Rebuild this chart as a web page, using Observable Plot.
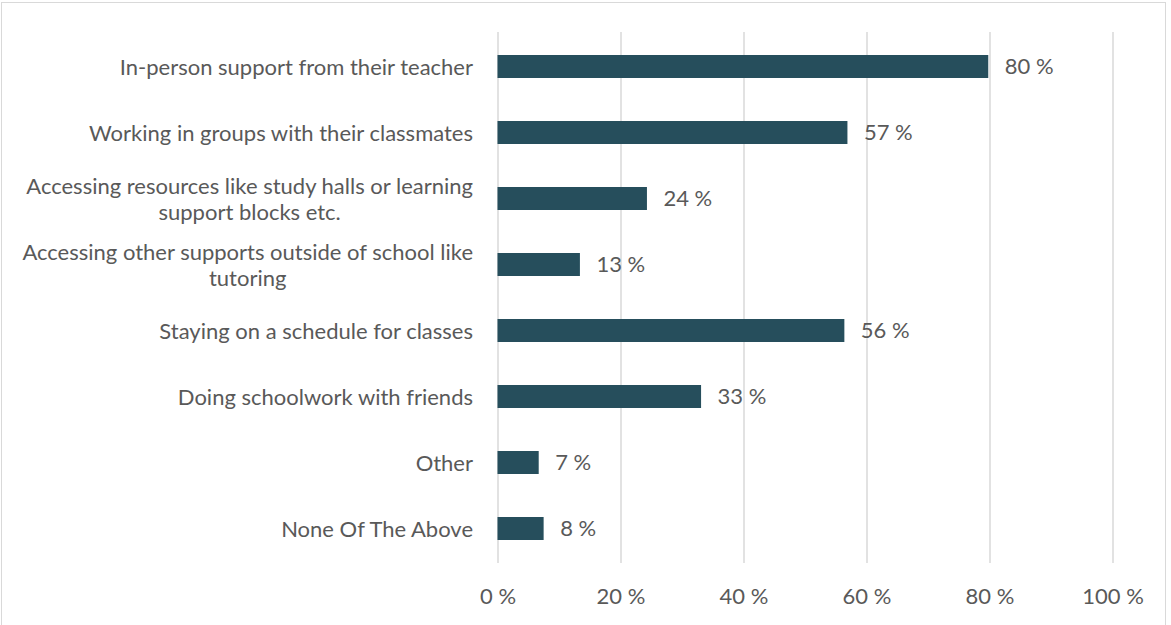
<!DOCTYPE html>
<html>
<head>
<meta charset="utf-8">
<script src="https://cdn.jsdelivr.net/npm/d3@7"></script>
<script src="https://cdn.jsdelivr.net/npm/@observablehq/plot@0.6"></script>
<style>
  html, body { margin: 0; padding: 0; background: #fff; }
  #wrap { position: relative; width: 1171px; height: 625px; overflow: hidden; }
  #border { position: absolute; left: 1px; top: 2px; width: 1165px; height: 640px; border: 1px solid #d9d9d9; box-sizing: border-box; pointer-events: none; }
  svg { font-family: Lato, "Open Sans", sans-serif; }
</style>
</head>
<body>
<div id="wrap"><div id="chart"></div><div id="border"></div></div>
<script>
const categories = [
  "In-person support from their teacher",
  "Working in groups with their classmates",
  "Accessing resources like study halls or learning\nsupport blocks etc.",
  "Accessing other supports outside of school like\ntutoring",
  "Staying on a schedule for classes",
  "Doing schoolwork with friends",
  "Other",
  "None Of The Above"
];
const values = [79.8, 56.9, 24.3, 13.4, 56.4, 33.1, 6.7, 7.5];
const xTicks = [0, 20, 40, 60, 80, 100];

const data = categories.map((c, i) => ({category: c, value: values[i]}));

const textColor = "#595959";
const barColor = "#264E5C";
const fs = 22;

const chart = Plot.plot({
  width: 1171,
  height: 625,
  marginLeft: 497.5,
  marginRight: 58.5,
  marginTop: 32,
  marginBottom: 62,
  style: {fontSize: fs + "px", color: textColor, background: "transparent", fontFamily: "Lato, 'Open Sans', sans-serif"},
  x: {domain: [0, 100], ticks: xTicks, tickFormat: d => d + " %", label: null},
  y: {domain: categories, label: null, paddingInner: 0.65, paddingOuter: 0.325},
  marks: [
    Plot.gridX(xTicks, {stroke: "#d9d9d9", strokeOpacity: 1, strokeWidth: 1.5}),
    Plot.barX(data, {x: "value", y: "category", fill: barColor}),
    Plot.text(data, {x: "value", y: "category", text: d => Math.round(d.value) + " %", textAnchor: "start", dx: 16, fill: textColor, fontSize: fs}),
    Plot.axisX({ticks: xTicks, tickFormat: d => d + " %", tickSize: 0, tickPadding: 25, fill: textColor, fontSize: fs, label: null}),
    Plot.axisY({tickSize: 0, tickPadding: 25, fill: textColor, fontSize: fs, label: null, lineHeight: 1.18})
  ]
});
document.getElementById("chart").appendChild(chart);

// Center multi-line category labels (as in the original chart)
chart.querySelectorAll("g[aria-label='y-axis tick label'] text").forEach(t => {
  const spans = t.querySelectorAll("tspan");
  if (spans.length > 1) {
    let maxW = 0;
    spans.forEach(s => { maxW = Math.max(maxW, s.getComputedTextLength()); });
    t.setAttribute("text-anchor", "middle");
    spans.forEach(s => s.setAttribute("x", -maxW / 2));
  }
});
</script>
</body>
</html>
